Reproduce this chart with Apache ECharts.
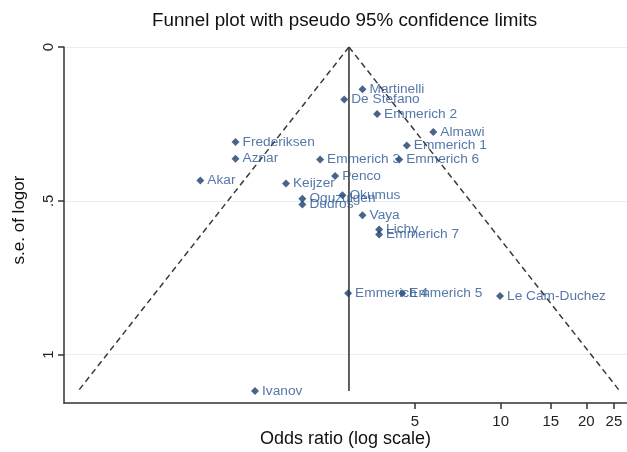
<!DOCTYPE html>
<html><head><meta charset="utf-8">
<script src="https://cdn.jsdelivr.net/npm/echarts@6/dist/echarts.min.js"></script>
<style>html,body{margin:0;padding:0;background:#fff}#c{width:627px;height:452px}</style>
</head><body><div id="c"></div>
<script>
// ---- data ----
const studies = ['Martinelli','De Stefano','Emmerich 2','Almawi','Emmerich 1','Frederiksen','Aznar','Emmerich 3','Emmerich 6','Penco','Akar','Keijzer','Okumus','Oguzulgen','Dudros','Vaya','Lichy','Emmerich 7','Emmerich 4','Emmerich 5','Le Cam-Duchez','Ivanov'];
const oddsRatio = [3.27,2.82,3.68,5.80,4.68,1.17,1.17,2.32,4.40,2.62,0.88,1.76,2.78,2.01,2.01,3.27,3.74,3.74,2.91,4.51,9.95,1.37];
const seLogOR = [0.1375,0.171,0.218,0.276,0.320,0.309,0.363,0.366,0.366,0.419,0.434,0.444,0.482,0.493,0.512,0.547,0.593,0.609,0.800,0.800,0.8095,1.118];
const pooledOR = 2.93;
const zCrit = 1.96;
const xTickValues = [5,10,15,20,25];
const yTickValues = [0,0.5,1];
const yTickLabels = ['0','.5','1'];
const xRange = [0.292, 27.8];
const yRange = [0, 1.157];

// ---- build ----
const ln = Math.log;
const pts = studies.map((s,i)=>({name:s, value:[ln(oddsRatio[i]), seLogOR[i]]}));
const seMax = Math.max(...seLogOR);
const c = ln(pooledOR);
const lineCol = '#3a3a3a';
const FF = 'Liberation Sans, Arial, sans-serif';

const chart = echarts.init(document.getElementById('c'), null, {renderer:'canvas'});
chart.setOption({
  animation:false,
  backgroundColor:'#fff',
  textStyle:{fontFamily:FF},
  title:{text:'Funnel plot with pseudo 95% confidence limits', left:147, top:6,
    textStyle:{fontSize:18.8, fontWeight:'normal', color:'#111', fontFamily:FF}},
  grid:{left:64, right:0, top:47, bottom:49, containLabel:false, outerBoundsMode:'none'},
  xAxis:{type:'value', min:ln(xRange[0]), max:ln(xRange[1]),
    name:'Odds ratio (log scale)', nameLocation:'middle', nameGap:27, nameMoveOverlap:false,
    nameTextStyle:{fontSize:18, color:'#111'},
    axisLine:{show:true, onZero:false, lineStyle:{color:'#333', width:1.5}},
    axisTick:{show:true, length:6, customValues:xTickValues.map(ln), lineStyle:{color:'#333', width:1.5}},
    axisLabel:{customValues:xTickValues.map(ln), formatter:v=>String(Math.round(Math.exp(v))), fontSize:15, color:'#222', margin:11},
    splitLine:{show:false}},
  yAxis:{type:'value', inverse:true, min:yRange[0], max:yRange[1],
    name:'s.e. of logor', nameLocation:'middle', nameGap:36, nameMoveOverlap:false,
    nameTextStyle:{fontSize:17, color:'#111', padding:[0,0,0,10]},
    axisLine:{show:true, onZero:false, lineStyle:{color:'#333', width:1.5}},
    axisTick:{show:true, length:6, customValues:yTickValues, lineStyle:{color:'#333', width:1.5}},
    axisLabel:{customValues:yTickValues, rotate:90, margin:8, fontSize:15, color:'#222',
      formatter:v=>{const i=yTickValues.findIndex(t=>Math.abs(t-v)<1e-9);return i>=0?yTickLabels[i]:'';}},
    splitLine:{show:true, lineStyle:{color:'#e4eff0', width:1.2}}},
  series:[
    {type:'line', symbol:'none', silent:true, z:1, data:[[c,0],[c,seMax]], lineStyle:{color:lineCol, width:1.6}},
    {type:'line', symbol:'none', silent:true, z:1, data:[[c,0],[c-zCrit*seMax,seMax]], lineStyle:{color:lineCol, width:1.5, type:[6,4]}},
    {type:'line', symbol:'none', silent:true, z:1, data:[[c,0],[c+zCrit*seMax,seMax]], lineStyle:{color:lineCol, width:1.5, type:[6,4]}},
    {type:'scatter', z:3, symbol:'diamond', symbolSize:8, data:pts,
      itemStyle:{color:'#1c3d6e'},
      label:{show:true, position:'right', distance:3, formatter:p=>p.name, fontSize:13.7, color:'#2b5594'}}
  ]
});
</script>
</body></html>
